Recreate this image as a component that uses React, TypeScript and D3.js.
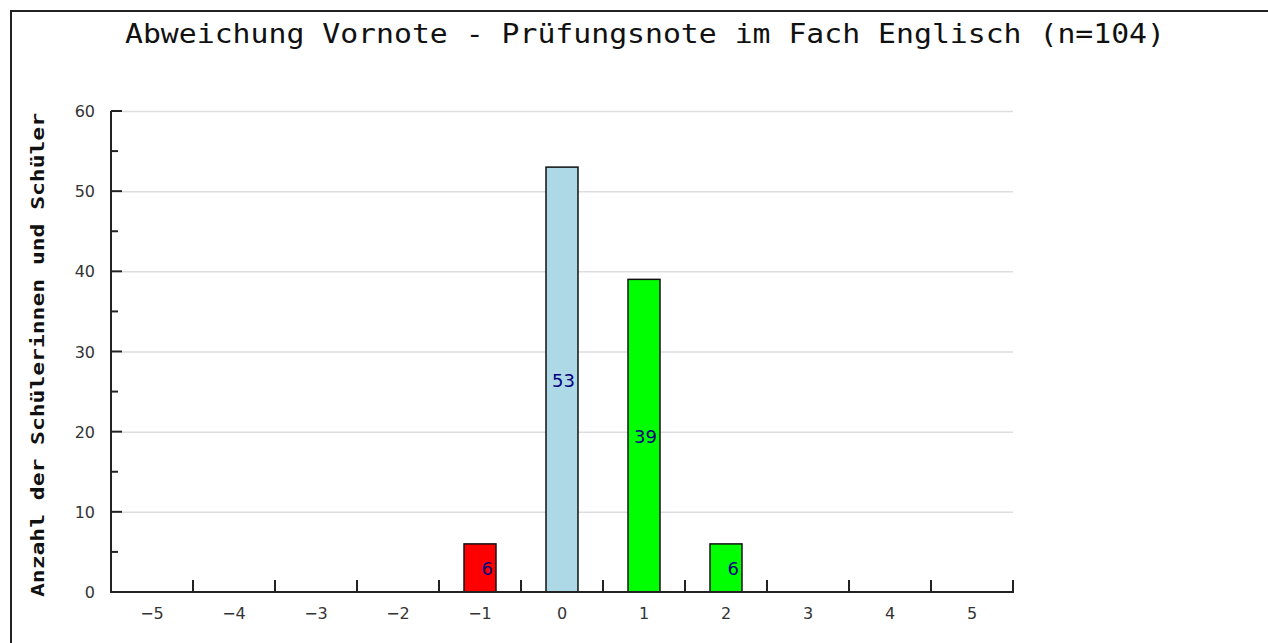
import React, { useEffect, useRef } from "react";
import * as d3 from "d3";

const title = "Abweichung Vornote - Prüfungsnote im Fach Englisch (n=104)";
const yLabel = "Anzahl der Schülerinnen und Schüler";
const categories = ["-5", "-4", "-3", "-2", "-1", "0", "1", "2", "3", "4", "5"];
const counts = [0, 0, 0, 0, 6, 53, 39, 6, 0, 0, 0];
const barColors = ["#ff0000", "#ff0000", "#ff0000", "#ff0000", "#ff0000", "#add8e6", "#00ff00", "#00ff00", "#00ff00", "#00ff00", "#00ff00"];
const yTicks = [0, 10, 20, 30, 40, 50, 60];

function App() {
  const ref = useRef<HTMLDivElement>(null);

  useEffect(() => {
    if (!ref.current) return;
    ref.current.innerHTML = "";

    const W = 1268;
    const H = 643;
    const margin = { top: 111, right: 255, bottom: 51, left: 111 };

    const svg = d3
      .select(ref.current)
      .append("svg")
      .attr("width", W)
      .attr("height", H)
      .style("display", "block");

    // page frame
    svg.append("line").attr("x1", 11).attr("x2", 11).attr("y1", 10).attr("y2", H).attr("stroke", "#222").attr("stroke-width", 2);
    svg.append("line").attr("x1", 10).attr("x2", W).attr("y1", 11).attr("y2", 11).attr("stroke", "#222").attr("stroke-width", 2);

    const x = d3
      .scaleBand()
      .domain(categories)
      .range([margin.left, W - margin.right])
      .padding(0);

    const y = d3
      .scaleLinear()
      .domain([0, 60])
      .range([H - margin.bottom, margin.top]);

    const x0 = margin.left;
    const x1 = W - margin.right;
    const y0 = y(0);

    // grid
    svg
      .append("g")
      .selectAll("line")
      .data(yTicks.filter((t) => t > 0))
      .join("line")
      .attr("x1", x0 + 11)
      .attr("x2", x1)
      .attr("y1", (d) => y(d) + 0.5)
      .attr("y2", (d) => y(d) + 0.5)
      .attr("stroke", "#dddddd")
      .attr("stroke-width", 1.5);

    // bars
    const bw = x.bandwidth() * 0.39;
    counts.forEach((c, i) => {
      if (c <= 0) return;
      const cx = x(categories[i])! + x.bandwidth() / 2;
      svg
        .append("rect")
        .attr("x", cx - bw / 2)
        .attr("y", y(c))
        .attr("width", bw)
        .attr("height", y0 - y(c))
        .attr("fill", barColors[i])
        .attr("stroke", "#111")
        .attr("stroke-width", 1.5);
      svg
        .append("text")
        .attr("x", cx + 13)
        .attr("y", (y(c) + y0) / 2 + 7)
        .attr("text-anchor", "end")
        .attr("fill", "#000080")
        .style("font", "18px 'DejaVu Sans', sans-serif")
        .text(c);
    });

    // y axis
    svg.append("line").attr("x1", x0).attr("x2", x0).attr("y1", y(60)).attr("y2", y0 + 1).attr("stroke", "#222").attr("stroke-width", 2);
    d3.range(0, 61, 5).forEach((t) => {
      const major = t % 10 === 0;
      svg
        .append("line")
        .attr("x1", x0)
        .attr("x2", x0 + (major ? 11 : 7))
        .attr("y1", y(t))
        .attr("y2", y(t))
        .attr("stroke", "#222")
        .attr("stroke-width", 2);
    });
    svg
      .append("g")
      .selectAll("text")
      .data(yTicks)
      .join("text")
      .attr("x", x0 - 16)
      .attr("y", (d) => y(d) + 6)
      .attr("text-anchor", "end")
      .attr("fill", "#333")
      .style("font", "16px 'DejaVu Sans', sans-serif")
      .text((d) => d);

    // x axis
    svg.append("line").attr("x1", x0 - 1).attr("x2", x1 + 1).attr("y1", y0).attr("y2", y0).attr("stroke", "#222").attr("stroke-width", 2);
    categories.forEach((c) => {
      const bx = x(c)! + x.bandwidth();
      svg.append("line").attr("x1", bx).attr("x2", bx).attr("y1", y0).attr("y2", y0 - 12).attr("stroke", "#222").attr("stroke-width", 2);
    });
    svg
      .append("g")
      .selectAll("text")
      .data(categories)
      .join("text")
      .attr("x", (d) => x(d)! + x.bandwidth() / 2)
      .attr("y", y0 + 27)
      .attr("text-anchor", "middle")
      .attr("fill", "#333")
      .style("font", "16px 'DejaVu Sans', sans-serif")
      .text((d) => d.replace("-", "\u2212"));

    // title
    svg
      .append("text")
      .attr("x", 125)
      .attr("y", 43)
      .attr("textLength", 1040)
      .attr("lengthAdjust", "spacingAndGlyphs")
      .attr("fill", "#111")
      .style("font", "26px 'DejaVu Sans Mono', monospace")
      .text(title);

    // y label
    svg
      .append("text")
      .attr("transform", `translate(44,597) rotate(-90)`)
      .attr("textLength", 484)
      .attr("lengthAdjust", "spacingAndGlyphs")
      .attr("fill", "#111")
      .style("font", "bold 18px 'DejaVu Sans Mono', monospace")
      .text(yLabel);
  }, []);

  return (
    <div style={{ position: "fixed", left: 0, top: 0, background: "#fff" }}>
      <div ref={ref} />
    </div>
  );
}

export default App;
